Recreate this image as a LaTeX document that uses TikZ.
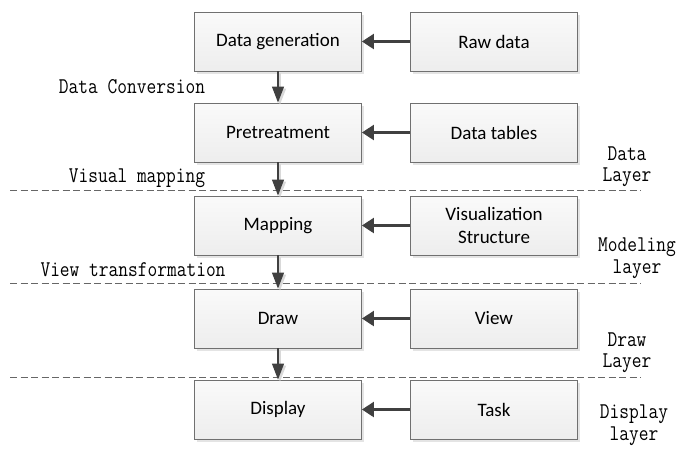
\documentclass[tikz,border=0pt]{standalone}
\usepackage{fontspec}
\usetikzlibrary{arrows.meta,shadows}
\setmainfont{Carlito}
\setmonofont[FakeStretch=0.84]{Latin Modern Mono}
\definecolor{arr}{HTML}{404040}
\definecolor{bord}{HTML}{707070}
\tikzset{
  box/.style={draw=bord, line width=0.9pt, top color=gray!4, bottom color=gray!14,
    minimum width=167pt, minimum height=59pt, inner sep=2pt, align=center,
    font=\fontsize{19}{23}\selectfont,
    drop shadow={shadow xshift=2.5pt, shadow yshift=-2.5pt, fill=gray!35, opacity=0.6}},
  varrow/.style={draw=arr, line width=1.1pt, -{Triangle[length=16pt,width=12pt]}},
  harrow/.style={draw=arr, line width=2.6pt, -{Triangle[length=12pt,width=15pt]}},
  arrshadow/.style={draw=gray!30, line width=1.1pt, -{Triangle[length=16pt,width=12pt]},
    transform canvas={shift={(2pt,-2pt)}}},
  layerline/.style={draw=gray!80!black, line width=0.8pt, dash pattern=on 7pt off 3.5pt},
  lab/.style={font=\ttfamily\fontsize{22.5}{21.5}\selectfont, align=center, inner sep=0pt}
}
\begin{document}
\begin{tikzpicture}[x=1pt,y=-1pt]
\useasboundingbox (0,0) rectangle (676,448);
% layer separators
\coordinate (l1a) at (10,190); \coordinate (l1b) at (641,190);
\coordinate (l2a) at (10,283); \coordinate (l2b) at (641,283);
\coordinate (l3a) at (10,377); \coordinate (l3b) at (641,377);
\draw[layerline] (l1a) -- (l1b);
\draw[layerline] (l2a) -- (l2b);
\draw[layerline] (l3a) -- (l3b);
% boxes
\node[box] (gen) at (278,41.5) {Data generation};
\node[box] (raw) at (494,41.5) {Raw data};
\node[box] (pre) at (278,132.5) {Pretreatment};
\node[box] (tab) at (494,132.5) {Data tables};
\node[box] (map) at (278,225.5) {Mapping};
\node[box] (vis) at (494,225.5) {Visualization\\Structure};
\node[box] (drw) at (278,318.5) {Draw};
\node[box] (view) at (494,318.5) {View};
\node[box] (disp) at (278,409.5) {Display};
\node[box] (task) at (494,409.5) {Task};
% vertical arrows with light shadows
\foreach \a/\b in {gen/pre, pre/map, map/drw, drw/disp}{
  \draw[arrshadow] (\a.south) -- (\b.north);
  \draw[varrow] (\a.south) -- (\b.north);
}
% horizontal arrows
\draw[harrow] (raw.west) -- (gen.east);
\draw[harrow] (tab.west) -- (pre.east);
\draw[harrow] (vis.west) -- (map.east);
\draw[harrow] (view.west) -- (drw.east);
\draw[harrow] (task.west) -- (disp.east);
% transition labels
\node[lab] (t1) at (132,87) {Data Conversion};
\node[lab] (t2) at (137,178) {Visual mapping};
\node[lab] (t3) at (133,270) {View transformation};
% layer labels
\node[lab] (L1) at (627,166.5) {Data\\Layer};
\node[lab] (L2) at (637,258) {Modeling\\layer};
\node[lab] (L3) at (627,352.5) {Draw\\Layer};
\node[lab] (L4) at (634,425) {Display\\layer};
\end{tikzpicture}
\end{document}
